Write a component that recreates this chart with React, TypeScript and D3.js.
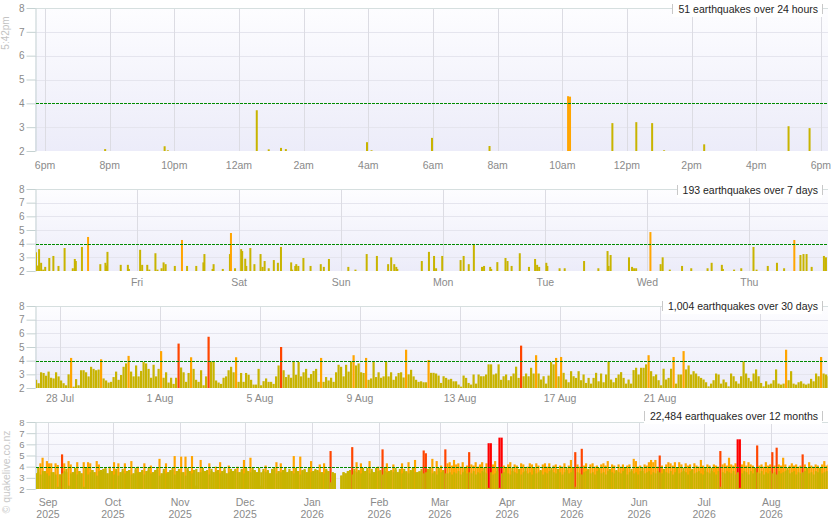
import { useEffect, useRef } from "react";
import * as d3 from "d3";

// ---- 24 hours: hours after 6pm, magnitude ----
const hours24 = [1.86, 3.7, 3.8, 6.55, 6.92, 7.3, 7.45, 9.96, 10.1, 11.97, 13.75, 16.18, 16.24, 17.55, 18.29, 18.78, 19.15, 20.39, 23.0, 23.65];
const mags24 = [2.08, 2.2, 2.03, 3.71, 2.07, 2.13, 2.08, 2.37, 2.03, 2.55, 2.21, 4.3, 4.28, 3.17, 3.21, 3.17, 2.03, 2.28, 3.04, 2.96];
const hourTicks = [0, 2, 4, 6, 8, 10, 12, 14, 16, 18, 20, 22, 24];
const hourLabels = ["6pm", "8pm", "10pm", "12am", "2am", "4am", "6am", "8am", "10am", "12pm", "2pm", "4pm", "6pm"];

// ---- 7 days: days since Thu 00:00, magnitude ----
const days7 = [
  0.01, 0.03, 0.04, 0.06, 0.08, 0.1, 0.14, 0.18, 0.23, 0.29, 0.37, 0.39, 0.4, 0.46, 0.52, 0.64, 0.69, 0.7, 0.71, 0.84,
  0.91, 0.92, 1.03, 1.05, 1.1, 1.12, 1.18, 1.2, 1.24, 1.26, 1.28, 1.37, 1.44, 1.49, 1.58, 1.65, 1.66, 1.74, 1.75, 1.84,
  1.91, 1.92, 1.96, 2.02, 2.03, 2.06, 2.07, 2.11, 2.15, 2.21, 2.23, 2.25, 2.29, 2.34, 2.38, 2.41, 2.51, 2.52, 2.55, 2.56,
  2.58, 2.63, 2.7, 2.8, 2.83, 2.88, 3.07, 3.14, 3.25, 3.35, 3.46, 3.49, 3.52, 3.54, 3.55, 3.79, 3.86, 3.91, 3.93, 3.99,
  4.17, 4.2, 4.25, 4.3, 4.38, 4.4, 4.46, 4.47, 4.53, 4.61, 4.63, 4.67, 4.75, 4.84, 4.9, 4.92, 4.94, 5.01, 5.02, 5.14,
  5.19, 5.38, 5.52, 5.61, 5.62, 5.64, 5.82, 5.85, 5.87, 5.89, 6.03, 6.13, 6.15, 6.22, 6.34, 6.43, 6.59, 6.63, 6.73, 6.74,
  6.85, 6.92, 7.04, 7.07, 7.18, 7.27, 7.34, 7.44, 7.5, 7.53, 7.56, 7.61, 7.73, 7.75,
];
const mags7 = [
  3.37, 2.4, 3.6, 2.6, 2.1, 2.3, 2.95, 3.1, 2.37, 3.68, 2.2, 2.88, 2.73, 3.76, 4.49, 2.5, 2.6, 2.4, 3.4, 2.45,
  2.45, 2.15, 3.55, 2.45, 2.45, 2.1, 3.3, 2.1, 2.2, 2.63, 2.5, 2.37, 4.27, 2.37, 2.37, 2.63, 3.24, 2.15, 2.5, 2.15,
  3.24, 4.78, 2.2, 3.6, 3.46, 2.9, 2.37, 3.68, 2.5, 3.24, 2.3, 2.73, 2.2, 2.8, 2.6, 3.76, 2.63, 2.1, 2.37, 2.5,
  2.37, 2.95, 2.37, 2.5, 2.3, 2.88, 2.3, 2.1, 3.24, 3.1, 2.5, 3.0, 2.5, 2.3, 2.15, 2.73, 3.4, 3.1, 2.2, 3.1,
  2.8, 3.1, 2.5, 3.98, 2.3, 2.37, 2.3, 2.15, 2.65, 2.95, 2.73, 2.37, 3.3, 2.3, 2.88, 2.45, 2.3, 2.6, 2.37, 2.2,
  2.2, 2.73, 2.2, 3.46, 2.37, 3.17, 3.0, 2.3, 2.2, 2.2, 4.85, 2.5, 3.0, 2.1, 2.37, 2.2, 2.2, 2.6, 2.45, 2.15,
  2.1, 2.2, 3.76, 2.1, 2.37, 2.6, 2.2, 4.27, 3.17, 3.24, 3.24, 2.3, 3.1, 3.0,
];
const dayTicks7 = [1, 2, 3, 4, 5, 6, 7];
const dayLabels7 = ["Fri", "Sat", "Sun", "Mon", "Tue", "Wed", "Thu"];

// ---- 30 days: largest magnitude in each 0.1-day slot since 27 Jul ----
const slots30 = [
  2.6, 2.35, 3.15, 3.1, 2.9, 3.2, 2.75, 2.7, 3.15, 2.85, 2.55, 2.35, 2.2, 3.0, 4.2, 2.1, 2.65, 2.2, 3.3, 3.3,
  3.15, 2.85, 3.55, 3.4, 3.3, 3.35, 4.1, 2.7, 2.55, 2.4, 2.45, 2.8, 3.2, 2.6, 2.95, 3.55, 3.8, 4.35, 3.2, 2.85,
  3.65, 2.85, 3.25, 3.9, 3.8, 3.4, 2.75, 3.7, 2.85, 3.4, 4.7, 2.75, 3.15, 2.4, 2.75, 2.3, 2.75, 5.25, 3.5, 3.15,
  2.45, 3.1, 4.25, 3.4, 2.6, 2.45, 3.3, 2.2, 2.85, 5.75, 3.95, 3.95, 2.55, 2.4, 2.3, 2.75, 2.85, 3.3, 3.55, 3.15,
  4.25, 2.45, 3.1, 2.45, 3.1, 2.97, 2.6, 2.25, 2.25, 3.4, 2.2, 2.5, 2.7, 2.45, 2.45, 2.3, 2.85, 3.65, 5.0, 3.3,
  2.8, 2.97, 2.75, 3.98, 2.97, 3.9, 2.85, 3.15, 3.4, 2.75, 3.02, 3.25, 3.4, 2.45, 4.2, 2.45, 2.8, 2.55, 2.75, 2.45,
  3.15, 3.7, 3.55, 2.85, 3.7, 3.2, 3.95, 4.4, 3.65, 3.8, 3.15, 3.1, 4.2, 2.6, 2.7, 3.9, 2.8, 3.15, 2.75, 2.85,
  3.95, 2.85, 3.15, 2.6, 2.85, 3.1, 3.15, 2.77, 4.8, 3.0, 3.33, 2.85, 2.6, 2.45, 2.49, 2.42, 2.42, 4.05, 3.11, 3.11,
  3.06, 2.91, 2.37, 2.86, 2.74, 2.62, 2.67, 2.49, 2.49, 2.25, 2.1, 2.91, 2.74, 2.37, 2.25, 2.99, 2.32, 2.99, 2.86, 2.86,
  2.99, 3.73, 3.73, 2.99, 3.06, 3.73, 2.6, 2.86, 2.99, 2.57, 2.86, 3.06, 3.56, 2.74, 5.1, 2.86, 3.06, 2.86, 3.48, 3.06,
  4.4, 3.06, 2.62, 2.86, 2.32, 2.91, 3.9, 3.73, 4.2, 2.86, 4.27, 3.11, 2.62, 2.42, 3.23, 2.86, 2.74, 3.23, 2.57, 2.99,
  2.37, 2.74, 2.32, 2.74, 3.11, 2.49, 3.06, 2.42, 2.99, 3.95, 2.62, 2.42, 2.74, 2.99, 3.16, 2.74, 2.32, 2.62, 2.32, 3.31,
  3.48, 2.99, 3.48, 3.48, 3.73, 4.4, 3.23, 2.86, 2.99, 2.57, 2.2, 3.41, 2.62, 2.74, 3.41, 4.27, 2.32, 2.99, 2.99, 4.7,
  3.36, 3.65, 2.99, 3.23, 3.06, 2.86, 2.74, 2.62, 2.42, 2.12, 2.32, 2.57, 3.06, 2.99, 2.32, 2.62, 2.42, 2.12, 3.06, 2.86,
  2.49, 2.32, 2.86, 3.95, 3.06, 2.74, 2.49, 3.06, 3.36, 2.86, 2.37, 2.12, 2.49, 2.25, 2.32, 2.57, 3.36, 2.32, 2.25, 2.32,
  4.8, 2.57, 3.23, 2.32, 2.25, 2.42, 2.49, 2.32, 2.25, 2.32, 2.67, 2.49, 3.06, 2.86, 4.27, 3.06, 2.99, 2.86,
];
const dateTicks30 = [1, 5, 9, 13, 17, 21, 25];
const dateLabels30 = ["28 Jul", "1 Aug", "5 Aug", "9 Aug", "13 Aug", "17 Aug", "21 Aug", "25 Aug"];
const dateTicks30b = [1, 5, 9, 13, 17, 21, 25, 29];

// ---- 12 months: daily max magnitude and the level the smaller quakes fill to, from 26 Aug 2025 ----
const dailyMax = [
  3.4, 3.9, 4.3, 4.8, 3.6, 4.5, 4.3, 4.3, 3.5, 4.3, 4.15, 3.3, 5.1, 4.3, 3.8, 4.5, 4.2, 3.5, 3.9, 4.4,
  3.6, 3.4, 4.4, 3.9, 4.4, 4.3, 3.7, 3.5, 4.5, 4.2, 3.7, 3.8, 3.9, 3.4, 4.0, 3.6, 4.4, 3.8, 4.3, 3.5,
  3.8, 4.3, 3.6, 3.7, 4.5, 3.4, 3.9, 4.0, 3.5, 3.7, 4.3, 3.6, 3.9, 4.1, 3.5, 3.7, 3.9, 4.7, 3.4, 3.8,
  4.3, 3.5, 3.7, 3.9, 4.95, 3.6, 3.8, 4.9, 3.5, 4.9, 3.9, 3.6, 4.95, 3.7, 3.8, 3.5, 4.6, 3.9, 3.6, 3.7,
  4.3, 3.8, 3.5, 4.0, 3.7, 4.4, 3.6, 3.9, 3.4, 4.1, 3.8, 3.6, 3.8, 4.0, 3.5, 3.8, 4.6, 3.9, 3.6, 4.8,
  3.9, 3.7, 3.5, 3.9, 3.5, 3.8, 4.1, 3.7, 3.4, 3.8, 3.9, 4.4, 3.6, 4.3, 3.7, 3.9, 3.5, 3.8, 3.6, 4.95,
  3.9, 3.6, 4.9, 3.7, 3.8, 3.5, 3.9, 4.5, 3.6, 3.8, 3.7, 4.2, 3.5, 4.3, 3.8, 3.6, 5.4, 3.5, 3.4, 0,
  0, 3.2, 3.5, 3.4, 3.6, 3.7, 5.75, 3.8, 4.4, 3.7, 4.3, 3.9, 3.6, 3.9, 4.5, 3.8, 3.5, 3.9, 4.0, 3.7,
  5.55, 3.9, 4.3, 3.6, 3.7, 4.2, 3.9, 3.5, 3.8, 4.3, 3.8, 3.6, 4.4, 3.7, 3.9, 4.6, 3.5, 3.6, 3.8, 5.45,
  5.2, 3.8, 3.9, 4.7, 3.6, 4.5, 3.9, 4.1, 3.7, 5.55, 4.3, 4.4, 4.1, 4.6, 4.2, 4.3, 4.0, 4.4, 3.9, 4.1,
  5.3, 4.2, 4.1, 4.4, 4.0, 4.2, 4.4, 3.9, 4.3, 6.1, 6.1, 4.2, 4.5, 3.9, 6.6, 6.6, 4.1, 3.9, 4.2, 4.4,
  3.9, 4.2, 4.1, 3.8, 4.3, 4.2, 3.9, 4.0, 4.3, 4.2, 3.9, 4.3, 4.1, 3.7, 4.2, 4.3, 4.0, 4.3, 3.9, 4.1,
  4.2, 3.8, 4.1, 4.0, 4.3, 3.9, 4.1, 4.6, 3.9, 5.3, 4.2, 4.0, 5.6, 4.1, 4.3, 3.8, 4.2, 4.3, 4.0, 4.1,
  3.9, 4.2, 4.3, 4.1, 4.5, 3.8, 4.2, 4.1, 3.7, 4.2, 4.0, 4.2, 3.9, 4.1, 4.2, 3.8, 4.7, 4.5, 4.0, 4.1,
  3.9, 4.2, 4.1, 4.4, 4.6, 4.4, 4.6, 4.0, 5.0, 4.1, 3.8, 4.2, 4.4, 4.3, 4.1, 4.4, 3.9, 4.4, 4.2, 3.9,
  4.3, 4.1, 4.2, 3.8, 4.3, 4.1, 4.0, 4.6, 4.1, 3.9, 4.2, 4.1, 3.9, 4.2, 4.1, 4.0, 5.4, 4.2, 4.3, 4.1,
  4.8, 4.2, 4.1, 4.3, 6.45, 6.45, 4.2, 4.5, 4.1, 4.4, 4.2, 4.1, 3.9, 5.9, 4.1, 4.2, 4.0, 4.4, 4.1, 4.2,
  5.3, 4.1, 5.7, 4.2, 4.1, 4.8, 4.2, 3.9, 4.1, 4.3, 4.1, 4.2, 4.0, 4.1, 5.1, 4.2, 3.9, 4.4, 4.1, 4.0,
  4.2, 4.1, 3.9, 4.2, 4.5, 4.1, 4.2,
];
const dailyBase = [
  3.4, 3.5, 3.3, 3.6, 3.6, 3.4, 3.2, 3.5, 3.5, 3.3, 2.2, 3.3, 3.4, 3.6, 3.5, 2.3, 3.4, 3.5, 3.6, 3.3,
  3.6, 3.4, 2.2, 3.7, 3.3, 3.5, 3.7, 3.5, 3.2, 3.6, 3.7, 3.6, 3.8, 3.4, 3.7, 3.6, 3.3, 3.6, 3.2, 3.5,
  3.6, 3.4, 3.6, 3.7, 3.3, 3.4, 3.7, 3.5, 3.5, 3.6, 3.3, 3.6, 3.7, 3.4, 3.5, 3.6, 3.7, 3.2, 3.4, 3.6,
  3.4, 3.5, 3.6, 3.7, 3.3, 3.6, 3.7, 3.5, 3.5, 3.2, 3.7, 3.6, 3.4, 3.7, 2.3, 3.5, 3.5, 3.7, 3.6, 3.6,
  3.3, 3.6, 3.5, 3.6, 3.7, 3.4, 3.6, 3.7, 3.4, 3.5, 3.6, 3.6, 3.7, 3.5, 3.5, 3.7, 3.4, 3.7, 3.6, 3.5,
  3.7, 3.6, 3.5, 3.7, 2.3, 3.6, 3.5, 3.6, 3.4, 3.6, 3.7, 3.4, 3.6, 3.5, 3.6, 3.7, 3.5, 3.6, 3.6, 3.4,
  3.7, 3.6, 3.3, 3.6, 3.7, 3.5, 3.7, 3.5, 3.6, 3.7, 3.6, 3.5, 3.5, 3.4, 3.7, 3.6, 2.6, 3.5, 3.4, 0,
  0, 3.2, 3.5, 3.4, 3.6, 3.6, 3.3, 3.6, 3.5, 3.6, 3.4, 3.6, 3.6, 3.7, 3.4, 3.6, 3.5, 3.7, 3.6, 3.6,
  3.3, 3.6, 3.5, 3.6, 3.6, 3.5, 3.7, 3.5, 3.6, 3.4, 3.6, 3.5, 3.4, 3.6, 3.7, 3.5, 3.5, 3.5, 3.6, 3.4,
  3.5, 3.6, 3.7, 3.4, 3.5, 3.3, 3.6, 3.5, 3.6, 3.4, 3.4, 3.5, 3.3, 3.5, 3.4, 3.6, 3.3, 3.5, 3.6, 3.4,
  3.5, 3.4, 3.6, 3.3, 3.5, 3.4, 3.6, 3.5, 3.4, 2.1, 3.5, 3.3, 3.4, 3.6, 2.1, 3.4, 3.5, 3.6, 3.4, 3.3,
  3.6, 3.5, 3.4, 3.7, 3.3, 3.5, 3.6, 3.4, 3.5, 3.3, 3.6, 3.4, 3.5, 3.6, 3.3, 3.5, 3.4, 3.6, 3.7, 3.5,
  3.4, 3.6, 3.5, 3.3, 3.5, 3.7, 3.4, 3.5, 3.6, 2.2, 3.5, 3.4, 3.3, 3.5, 3.6, 3.7, 3.4, 3.5, 3.3, 3.6,
  3.6, 3.4, 3.5, 3.3, 3.6, 3.7, 3.5, 3.4, 3.6, 3.5, 3.4, 3.6, 3.7, 3.3, 3.5, 3.6, 3.4, 3.5, 3.3, 3.6,
  3.6, 3.4, 3.5, 3.6, 3.3, 3.5, 3.4, 3.6, 3.5, 3.4, 3.6, 3.5, 3.4, 3.6, 3.3, 3.5, 3.6, 3.4, 3.5, 3.6,
  3.5, 3.3, 3.6, 3.7, 3.4, 3.5, 3.6, 3.4, 3.3, 3.6, 3.5, 3.4, 3.6, 3.5, 3.3, 3.6, 2.2, 3.5, 3.4, 3.6,
  3.5, 3.4, 3.6, 3.3, 3.5, 2.1, 3.4, 3.6, 3.5, 3.3, 3.6, 3.4, 3.7, 3.5, 3.4, 3.6, 3.3, 3.5, 3.4, 3.6,
  3.4, 3.5, 3.3, 3.6, 3.4, 3.5, 3.6, 3.7, 3.4, 3.5, 3.6, 3.3, 3.5, 3.4, 3.5, 3.6, 3.7, 3.4, 3.5, 3.3,
  3.6, 3.5, 3.7, 3.4, 3.5, 3.6, 3.4,
];

const titles = [
  "51 earthquakes over 24 hours",
  "193 earthquakes over 7 days",
  "1,004 earthquakes over 30 days",
  "22,484 earthquakes over 12 months",
];

const magTicks = [2, 3, 4, 5, 6, 7, 8];
const LEFT = 35;
const RIGHT = 828;
const FONT = "'Liberation Sans', Arial, sans-serif";
const OLIVE = "#c8b400";

const magColor = (m: number) => (m >= 6 ? "#ff0000" : m >= 5 ? "#ff4500" : m >= 4 ? "#ffa500" : OLIVE);

type Sel = d3.Selection<SVGGElement, unknown, null, undefined>;

interface PanelOpts {
  top: number;
  bottom: number;
  titleY: number;
  title: string;
  yFont: number;
  gridX: number[];
  clipId: string;
}

// frame, grid, left axis; returns y scale and a clipped group for bars
function drawFrame(svg: d3.Selection<SVGSVGElement, unknown, null, undefined>, o: PanelOpts) {
  const y = d3.scaleLinear().domain([2, 8]).range([o.bottom, o.top]);
  const g = svg.append("g") as Sel;

  g.append("rect")
    .attr("x", LEFT)
    .attr("y", o.top)
    .attr("width", RIGHT - LEFT)
    .attr("height", o.bottom - o.top)
    .attr("fill", "url(#bg)");

  g.selectAll(null)
    .data([3, 5, 6, 7])
    .join("line")
    .attr("x1", LEFT)
    .attr("x2", RIGHT)
    .attr("y1", (d) => Math.round(y(d)) + 0.5)
    .attr("y2", (d) => Math.round(y(d)) + 0.5)
    .attr("stroke", "#e5e5ee")
    .attr("stroke-width", 1);

  g.selectAll(null)
    .data(o.gridX)
    .join("line")
    .attr("x1", (d) => d)
    .attr("x2", (d) => d)
    .attr("y1", o.top)
    .attr("y2", o.bottom)
    .attr("stroke", "#dcdce3")
    .attr("stroke-width", 1);

  g.append("line")
    .attr("x1", LEFT)
    .attr("x2", RIGHT)
    .attr("y1", o.top + 0.5)
    .attr("y2", o.top + 0.5)
    .attr("stroke", "#d6dfdf");

  const axis = g
    .append("g")
    .attr("transform", `translate(${LEFT + 0.5},0)`)
    .call(d3.axisLeft(y).tickValues(magTicks).tickSize(9).tickSizeOuter(0).tickPadding(2).tickFormat(d3.format("d")));
  axis.select(".domain").attr("stroke", "#c5d2d2");
  axis.selectAll(".tick line").attr("stroke", "#c5d2d2");
  axis
    .selectAll(".tick text")
    .attr("fill", "#8a8a8a")
    .style("font-size", `${o.yFont}px`)
    .style("font-family", FONT);

  svg
    .append("clipPath")
    .attr("id", o.clipId)
    .append("rect")
    .attr("x", LEFT + 1)
    .attr("y", o.top)
    .attr("width", RIGHT - LEFT - 1)
    .attr("height", o.bottom - o.top);

  const bars = g.append("g").attr("clip-path", `url(#${o.clipId})`) as Sel;
  return { y, g, bars };
}

function drawOverlay(g: Sel, y: d3.ScaleLinear<number, number>, o: PanelOpts) {
  // magnitude 4 reference line
  g.append("line")
    .attr("x1", LEFT + 1)
    .attr("x2", RIGHT)
    .attr("y1", Math.round(y(4)) + 0.5)
    .attr("y2", Math.round(y(4)) + 0.5)
    .attr("stroke", "#008a00")
    .attr("stroke-width", 1)
    .attr("shape-rendering", "crispEdges")
    .attr("stroke-dasharray", "3,1");

  // title box in the top right corner
  const box = g.append("g");
  const bg = box.append("rect").attr("fill", "#fff");
  const text = box
    .append("text")
    .attr("x", 818)
    .attr("y", o.titleY)
    .attr("text-anchor", "end")
    .attr("dominant-baseline", "central")
    .attr("fill", "#1e1e1e")
    .style("font-size", "10.5px")
    .style("font-family", FONT)
    .text(o.title);
  const w = (text.node() as SVGTextElement).getComputedTextLength();
  const x0 = Math.round(818 - w - 6);
  bg.attr("x", x0)
    .attr("y", o.titleY - 8)
    .attr("width", 822 - x0)
    .attr("height", 16);
  [x0, 822].forEach((xx) =>
    box
      .append("line")
      .attr("x1", xx + 0.5)
      .attr("x2", xx + 0.5)
      .attr("y1", o.titleY - 5)
      .attr("y2", o.titleY + 5)
      .attr("stroke", "#c8c8c8")
  );
}

function xLabels(g: Sel, xs: number[], labels: string[], y: number) {
  g.selectAll(null)
    .data(xs)
    .join("text")
    .attr("x", (d) => d)
    .attr("y", y)
    .attr("text-anchor", "middle")
    .attr("dominant-baseline", "central")
    .attr("fill", "#8a8a8a")
    .style("font-size", "10.5px")
    .style("font-family", FONT)
    .text((_, i) => labels[i]);
}

const App: React.FC = () => {
  const svgRef = useRef<SVGSVGElement | null>(null);

  useEffect(() => {
    if (!svgRef.current) return;
    const svg = d3.select(svgRef.current);
    svg.selectAll("*").remove();

    const grad = svg
      .append("defs")
      .append("linearGradient")
      .attr("id", "bg")
      .attr("x1", 0)
      .attr("y1", 0)
      .attr("x2", 0)
      .attr("y2", 1);
    grad.append("stop").attr("offset", "0%").attr("stop-color", "#fdfdff");
    grad.append("stop").attr("offset", "100%").attr("stop-color", "#ececf9");

    // ---- panel 1: 24 hours ----
    {
      const x = d3.scaleLinear().domain([-0.31, 24.22]).range([LEFT, RIGHT]);
      const o: PanelOpts = { top: 8, bottom: 151, titleY: 9, title: titles[0], yFont: 10, gridX: hourTicks.map((h) => Math.round(x(h)) + 0.5), clipId: "c1" };
      const { y, g, bars } = drawFrame(svg, o);
      bars
        .selectAll("rect")
        .data(hours24)
        .join("rect")
        .attr("x", (d) => x(d) - 1)
        .attr("width", 2)
        .attr("y", (_, i) => y(mags24[i]))
        .attr("height", (_, i) => y(2) - y(mags24[i]))
        .attr("fill", (_, i) => magColor(mags24[i]));
      drawOverlay(g, y, o);
      xLabels(g, hourTicks.map((h) => x(h)), hourLabels, 165);
    }

    // ---- panel 2: 7 days ----
    {
      const x = d3.scaleLinear().domain([0, 7.77]).range([LEFT, RIGHT]);
      const o: PanelOpts = { top: 189, bottom: 271, titleY: 190, title: titles[1], yFont: 10, gridX: dayTicks7.map((d) => Math.round(x(d)) + 0.5), clipId: "c2" };
      const { y, g, bars } = drawFrame(svg, o);
      bars
        .selectAll("rect")
        .data(days7)
        .join("rect")
        .attr("x", (d) => x(d) - 1)
        .attr("width", 2)
        .attr("y", (_, i) => y(mags7[i]))
        .attr("height", (_, i) => y(2) - y(mags7[i]))
        .attr("fill", (_, i) => magColor(mags7[i]));
      drawOverlay(g, y, o);
      xLabels(g, dayTicks7.map((d) => x(d)), dayLabels7, 282);
    }

    // ---- panel 3: 30 days ----
    {
      const x = d3.scaleLinear().domain([0, 31.72]).range([LEFT, RIGHT]);
      const o: PanelOpts = { top: 306, bottom: 388, titleY: 306, title: titles[2], yFont: 10, gridX: dateTicks30b.map((d) => Math.round(x(d)) + 0.5), clipId: "c3" };
      const { y, g, bars } = drawFrame(svg, o);
      const slot = 0.1;
      bars
        .selectAll("rect")
        .data(slots30)
        .join("rect")
        .attr("x", (_, i) => x(i * slot))
        .attr("width", x(slot) - x(0) - 0.3)
        .attr("y", (d) => y(d))
        .attr("height", (d) => y(2) - y(d))
        .attr("fill", (d) => magColor(d));
      drawOverlay(g, y, o);
      xLabels(g, dateTicks30.map((d) => x(d)), dateLabels30, 398);
    }

    // ---- panel 4: 12 months ----
    {
      const start = new Date(Date.UTC(2025, 7, 26));
      const end = new Date(Date.UTC(2026, 7, 27, 5));
      const x = d3.scaleUtc().domain([start, end]).range([LEFT, RIGHT]);
      const months = d3.utcMonth.range(new Date(Date.UTC(2025, 8, 1)), new Date(Date.UTC(2026, 7, 2)));
      const o: PanelOpts = { top: 422, bottom: 489, titleY: 416, title: titles[3], yFont: 9.5, gridX: months.map((m) => Math.round(x(m)) + 0.5), clipId: "c4" };
      const { y, g, bars } = drawFrame(svg, o);
      const dayX = (i: number) => x(d3.utcDay.offset(start, i));
      const dw = dayX(1) - dayX(0);
      const days = dailyMax.map((m, i) => ({ i, m, b: Math.min(m, dailyBase[i]) })).filter((d) => d.m > 0);
      bars
        .selectAll(null)
        .data(days)
        .join("rect")
        .attr("x", (d) => dayX(d.i))
        .attr("width", dw)
        .attr("y", (d) => y(d.m))
        .attr("height", (d) => y(2) - y(d.m))
        .attr("fill", (d) => magColor(d.m));
      bars
        .selectAll(null)
        .data(days.filter((d) => d.b > 2))
        .join("rect")
        .attr("x", (d) => dayX(d.i) + (d.m >= 4 ? 0.4 : 0))
        .attr("width", (d) => dw - (d.m >= 4 ? 0.4 : 0))
        .attr("y", (d) => y(d.b))
        .attr("height", (d) => y(2) - y(d.b))
        .attr("fill", OLIVE);
      drawOverlay(g, y, o);
      const fmtM = d3.utcFormat("%b");
      const fmtY = d3.utcFormat("%Y");
      xLabels(g, months.map((m) => x(m)), months.map(fmtM), 502);
      xLabels(g, months.map((m) => x(m)), months.map(fmtY), 514);
    }

    // side notes
    svg
      .append("text")
      .attr("transform", "translate(9,33) rotate(-90)")
      .attr("text-anchor", "middle")
      .attr("fill", "#c3c3c3")
      .style("font-size", "10px")
      .style("font-family", FONT)
      .text("5:42pm");
    svg
      .append("text")
      .attr("transform", "translate(9.5,472) rotate(-90)")
      .attr("text-anchor", "middle")
      .attr("fill", "#c8c8c8")
      .style("font-size", "10.5px")
      .style("font-family", FONT)
      .text("© quakelive.co.nz");
  }, []);

  return (
    <svg
      ref={svgRef}
      width={835}
      height={530}
      style={{ position: "absolute", left: 0, top: 0, background: "#fff" }}
    ></svg>
  );
};

export default App;
